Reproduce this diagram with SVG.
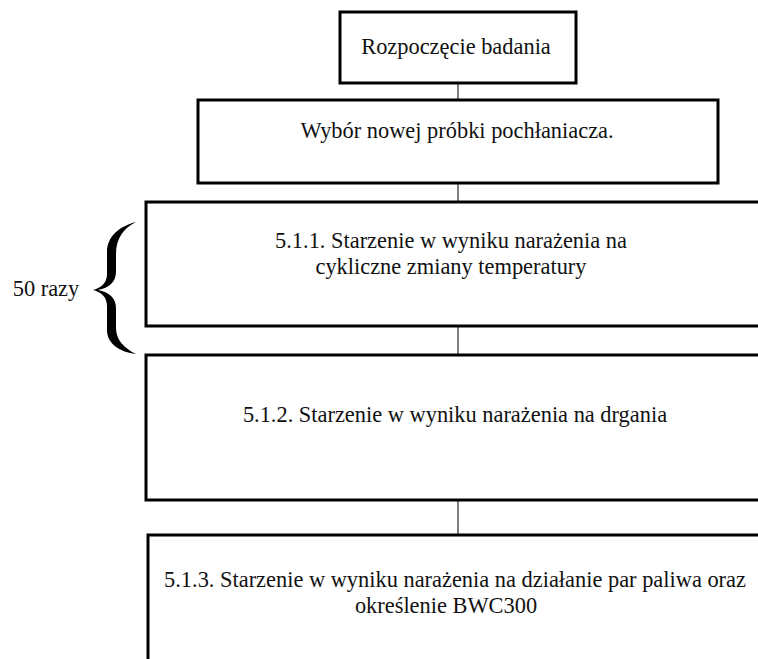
<svg xmlns="http://www.w3.org/2000/svg" width="758" height="659" viewBox="0 0 758 659">
<style>
.box{fill:#fff;stroke:#000;stroke-width:3}
.conn{stroke:#555;stroke-width:1.5;fill:none}
text{font-family:"Liberation Serif","Times New Roman",serif;font-size:22.4px;fill:#111;text-anchor:middle}
</style>
<rect width="758" height="659" fill="#fff"/>
<g id="connectors">
<line class="conn" x1="458" y1="83" x2="458" y2="100"/>
<line class="conn" x1="458" y1="183" x2="458" y2="202"/>
<line class="conn" x1="458" y1="326" x2="458" y2="355"/>
<line class="conn" x1="458" y1="500" x2="458" y2="535"/>
</g>
<g id="start">
<rect class="box" x="340" y="12" width="236" height="71"/>
<text x="456" y="54">Rozpoczęcie badania</text>
</g>
<g id="select">
<rect class="box" x="198" y="100" width="520" height="83"/>
<text x="457" y="138">Wybór nowej próbki pochłaniacza.</text>
</g>
<g id="step511">
<rect class="box" x="146" y="202" width="620" height="124"/>
<text x="451" y="248">5.1.1. Starzenie w wyniku narażenia na</text>
<text x="451" y="274">cykliczne zmiany temperatury</text>
</g>
<g id="step512">
<rect class="box" x="146" y="355" width="620" height="145"/>
<text x="455" y="422">5.1.2. Starzenie w wyniku narażenia na drgania</text>
</g>
<g id="step513">
<rect class="box" x="148" y="535" width="620" height="140"/>
<text x="455" y="587">5.1.3. Starzenie w wyniku narażenia na działanie par paliwa oraz</text>
<text x="446" y="613">określenie BWC300</text>
</g>
<g id="repeat">
<path fill="#000" d="M136 222 C120 226 107 236 107 252 L107 274 C107 284 100 288 93 290 C100 292 107 296 107 306 L107 330 C107 344 120 352 136 354 C124 348 116 340 116 328 L116 308 C116 298 109 292 98 290 C109 288 116 282 116 272 L116 254 C116 238 124 228 136 222 Z"/>
<text x="46" y="296">50 razy</text>
</g>
</svg>
